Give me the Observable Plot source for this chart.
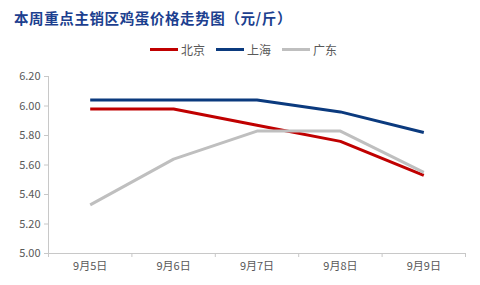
<!DOCTYPE html>
<html><head><meta charset="utf-8">
<script src="https://cdn.jsdelivr.net/npm/d3@7"></script>
<script src="https://cdn.jsdelivr.net/npm/@observablehq/plot@0.6"></script>
<style>
body{margin:0;background:#fff;width:480px;height:285px;overflow:hidden;position:relative;font-family:"Noto Sans CJK SC","Noto Sans",sans-serif;}
#title{position:absolute;left:14px;top:7px;font-size:14.5px;font-weight:bold;color:#1c3f8f;letter-spacing:0.6px;}
#legend{position:absolute;left:150px;top:41px;font-size:12px;color:#595959;display:flex;align-items:center;}
#legend span.item{display:flex;align-items:center;margin-right:11px;}
#legend span.sw{display:inline-block;width:28px;height:3px;margin-right:3px;}
#chart{position:absolute;left:0;top:60px;}
</style></head>
<body>
<div id="title">本周重点主销区鸡蛋价格走势图（元/斤）</div>
<div id="legend"></div>
<div id="chart"></div>
<script>
const dates = ["9月5日","9月6日","9月7日","9月8日","9月9日"];
const seriesNames = ["北京","上海","广东"];
const beijing = [5.98, 5.98, 5.87, 5.76, 5.53];
const shanghai = [6.04, 6.04, 6.04, 5.96, 5.82];
const guangdong = [5.33, 5.64, 5.83, 5.83, 5.55];
const colors = ["#c00000", "#0b3a7e", "#bfbfbf"];
const yTicks = [5.0, 5.2, 5.4, 5.6, 5.8, 6.0, 6.2];

const allSeries = [beijing, shanghai, guangdong];
const rows = [];
allSeries.forEach((vals, s) => vals.forEach((v, i) => rows.push({series: seriesNames[s], idx: i + 1, value: v})));
const bounds = d3.range(0, dates.length + 1).map(i => i + 0.5);

const leg = document.getElementById("legend");
seriesNames.forEach((n, i) => {
  const it = document.createElement("span"); it.className = "item";
  const sw = document.createElement("span"); sw.className = "sw"; sw.style.background = colors[i];
  it.appendChild(sw); it.appendChild(document.createTextNode(n)); leg.appendChild(it);
});

const plot = Plot.plot({
  width: 480, height: 225,
  marginTop: 16, marginBottom: 32, marginLeft: 48, marginRight: 15,
  style: {fontFamily: '"Noto Sans CJK SC","Noto Sans",sans-serif', fontSize: "11px", color: "#595959", background: "transparent"},
  x: {type: "linear", domain: [0.5, dates.length + 0.5]},
  y: {domain: [5.0, 6.2]},
  color: {domain: seriesNames, range: colors},
  marks: [
    Plot.ruleY([5.0], {stroke: "#c8c8c8"}),
    Plot.ruleX([0.5], {stroke: "#c8c8c8"}),
    Plot.axisY({ticks: yTicks, tickFormat: d => d.toFixed(2), tickSize: 4, tickPadding: 4, stroke: "#c8c8c8", fill: "#595959", label: null}),
    Plot.axisX({ticks: bounds, tickFormat: () => "", tickSize: 4, stroke: "#c8c8c8", label: null}),
    Plot.axisX({ticks: d3.range(1, dates.length + 1), tickFormat: i => dates[i - 1], tickSize: 0, tickPadding: 9, fill: "#595959", label: null}),
    Plot.line(rows, {x: "idx", y: "value", z: "series", stroke: "series", strokeWidth: 3, strokeLinejoin: "round", strokeLinecap: "butt"})
  ]
});
document.getElementById("chart").appendChild(plot);
</script>
</body></html>
